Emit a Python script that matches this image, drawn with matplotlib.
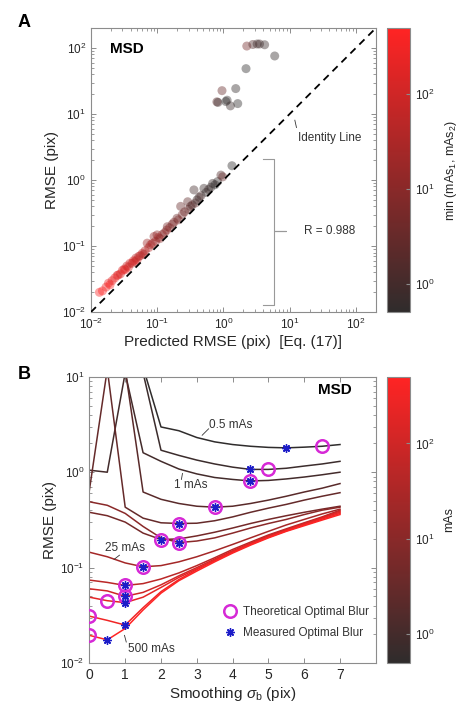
import numpy as np
import matplotlib
matplotlib.use("Agg")
import matplotlib.pyplot as plt
from matplotlib.colors import LinearSegmentedColormap, LogNorm
from matplotlib.cm import ScalarMappable
from matplotlib.lines import Line2D
import matplotlib.ticker as mticker

plt.rcParams['font.family'] = ['Liberation Sans', 'DejaVu Sans']
plt.rcParams['mathtext.fontset'] = 'custom'
plt.rcParams['mathtext.rm'] = 'Liberation Sans'
plt.rcParams['mathtext.it'] = 'Liberation Sans:italic'

## panel A data: predicted vs measured RMSE, colour = min(mAs1, mAs2)
pred_rmse = [0.0135, 0.015, 0.017, 0.0185, 0.0195, 0.021, 0.023, 0.025, 0.026, 0.028,
             0.030, 0.032, 0.033, 0.035, 0.037, 0.039, 0.042, 0.044, 0.046, 0.048,
             0.050, 0.053, 0.056, 0.060, 0.063, 0.066, 0.071, 0.075, 0.080, 0.085,
             0.090, 0.095, 0.100, 0.105, 0.11, 0.12, 0.13, 0.14, 0.143, 0.155,
             0.17, 0.18, 0.20, 0.21, 0.227, 0.24, 0.26, 0.29, 0.30, 0.32,
             0.34, 0.36, 0.38, 0.40, 0.43, 0.46, 0.51, 0.55, 0.60, 0.65,
             0.69, 0.75, 0.82, 0.92, 0.98, 1.35,
             2.26, 2.79, 3.24, 3.52, 4.2, 5.96, 2.2, 0.955, 1.54, 0.80,
             0.83, 1.14, 1.09, 1.28, 1.65]
meas_rmse = [0.020, 0.021, 0.024, 0.0275, 0.026, 0.030, 0.033, 0.036, 0.0367, 0.038,
             0.043, 0.045, 0.0437, 0.050, 0.048, 0.055, 0.055, 0.060, 0.058, 0.066,
             0.062, 0.070, 0.072, 0.078, 0.075, 0.085, 0.111, 0.095, 0.105, 0.110,
             0.140, 0.118, 0.148, 0.135, 0.130, 0.150, 0.160, 0.175, 0.197, 0.190,
             0.215, 0.230, 0.264, 0.250, 0.40, 0.30, 0.33, 0.47, 0.36, 0.40,
             0.42, 0.71, 0.45, 0.50, 0.55, 0.58, 0.75, 0.65, 0.72, 0.78,
             0.89, 0.85, 0.95, 1.19, 1.12, 1.65,
             107, 113, 115, 115, 112, 75.7, 48.7, 22.6, 24.3, 15.3,
             15.0, 16.2, 15.5, 13.3, 14.4]
mas_min = [400, 500, 300, 250, 500, 200, 300, 150, 250, 120,
           200, 100, 300, 80, 150, 100, 60, 200, 80, 50,
           120, 40, 80, 60, 30, 50, 20, 40, 25, 30,
           15, 20, 12, 25, 10, 15, 8, 12, 6, 10,
           5, 8, 4, 6, 3, 5, 4, 2.5, 3, 2,
           1.5, 1, 2, 1, 0.8, 1.2, 0.7, 0.6, 0.8, 0.6,
           0.7, 0.5, 0.6, 1.5, 3, 0.5,
           5, 1.5, 0.8, 1, 0.7, 0.6, 0.5, 3, 0.6, 2,
           0.8, 0.6, 0.5, 0.7, 0.5]
axis_lims = [0.01, 200]

## panel B data: RMSE vs smoothing for each exposure
sigma_b = [0, 0.5, 1, 1.5, 2, 2.5, 3, 3.5, 4, 4.5, 5, 5.5, 6, 6.5, 7]
curve_mas = [0.5, 0.75, 1, 2, 3, 5, 10, 25, 50, 100, 200, 300, 500]
rmse_curves = [
    [80, 60, 40, 12.6, 2.98, 2.72, 2.31, 2.08, 1.95, 1.87, 1.82, 1.80, 1.83, 1.87, 1.95],
    [80, 60, 40, 11, 1.70, 1.50, 1.34, 1.22, 1.13, 1.07, 1.07, 1.10, 1.16, 1.22, 1.30],
    [1.05, 1.0, 11, 1.6, 1.3, 1.08, 0.96, 0.88, 0.84, 0.81, 0.82, 0.85, 0.89, 0.94, 1.0],
    [80, 60, 12, 0.62, 0.52, 0.47, 0.44, 0.43, 0.44, 0.47, 0.51, 0.56, 0.62, 0.68, 0.76],
    [0.65, 12, 0.43, 0.33, 0.295, 0.29, 0.292, 0.31, 0.34, 0.38, 0.42, 0.46, 0.51, 0.56, 0.61],
    [0.38, 0.35, 0.30, 0.23, 0.197, 0.20, 0.215, 0.235, 0.26, 0.29, 0.32, 0.35, 0.38, 0.41, 0.44],
    [0.49, 0.45, 0.37, 0.27, 0.205, 0.183, 0.19, 0.205, 0.23, 0.26, 0.29, 0.32, 0.36, 0.40, 0.43],
    [0.145, 0.13, 0.112, 0.102, 0.105, 0.115, 0.13, 0.15, 0.175, 0.205, 0.24, 0.28, 0.32, 0.365, 0.41],
    [0.074, 0.070, 0.065, 0.068, 0.076, 0.088, 0.105, 0.127, 0.155, 0.185, 0.22, 0.255, 0.295, 0.34, 0.40],
    [0.060, 0.057, 0.050, 0.055, 0.066, 0.082, 0.100, 0.123, 0.150, 0.180, 0.215, 0.25, 0.29, 0.335, 0.39],
    [0.049, 0.045, 0.043, 0.049, 0.062, 0.079, 0.097, 0.120, 0.147, 0.177, 0.21, 0.245, 0.285, 0.33, 0.38],
    [0.031, 0.028, 0.025, 0.038, 0.056, 0.075, 0.095, 0.118, 0.145, 0.175, 0.208, 0.243, 0.28, 0.322, 0.37],
    [0.0195, 0.0175, 0.023, 0.036, 0.054, 0.073, 0.092, 0.115, 0.142, 0.172, 0.205, 0.24, 0.275, 0.315, 0.36],
]
theo_sigma = [6.5, 5.0, 4.5, 3.5, 2.5, 2.0, 2.5, 1.5, 1.0, 1.0, 0.5, 0.0, 0.0]
theo_rmse = [1.87, 1.08, 0.81, 0.43, 0.29, 0.197, 0.183, 0.102, 0.065, 0.050, 0.045, 0.031, 0.0195]
meas_sigma = [5.5, 4.5, 4.5, 3.5, 2.5, 2.0, 2.5, 1.5, 1.0, 1.0, 1.0, 1.0, 0.5]
meas_best = [1.80, 1.07, 0.81, 0.43, 0.29, 0.197, 0.183, 0.102, 0.065, 0.050, 0.043, 0.025, 0.0175]

cmap = LinearSegmentedColormap.from_list('graytored', ['#2f2c2c', '#ff2424'])
norm = LogNorm(0.5, 500)
spine_c = '#8c8c8c'
lab_c = '#262626'


def style(ax):
    for s in ax.spines.values():
        s.set_color(spine_c)
        s.set_linewidth(0.8)
    ax.tick_params(which='both', direction='in', top=True, right=True,
                   colors=spine_c, labelcolor=lab_c, labelsize=8.5)
    ax.tick_params(which='major', length=3.5, width=0.7)
    ax.tick_params(which='minor', length=2, width=0.6)


def colorbar(cax, label):
    cb = fig.colorbar(ScalarMappable(norm=norm, cmap=cmap), cax=cax)
    cb.outline.set_edgecolor(spine_c)
    cb.outline.set_linewidth(0.8)
    cb.ax.yaxis.set_minor_locator(mticker.NullLocator())
    cb.ax.tick_params(direction='in', length=3, colors=spine_c, labelcolor=lab_c, labelsize=8.5)
    cb.set_label(label, fontsize=9, color=lab_c, labelpad=6)
    return cb


fig = plt.figure(figsize=(4.68, 7.21), dpi=100)

## A
axA = fig.add_axes([0.194, 0.567, 0.609, 0.394])
axA.scatter(pred_rmse, meas_rmse, c=mas_min, cmap=cmap, norm=norm, s=42,
            alpha=0.42, edgecolors='none', zorder=2)
axA.plot(axis_lims, axis_lims, color='k', ls=(0, (4, 3)), lw=1.3, zorder=3)
axA.set_xscale('log')
axA.set_yscale('log')
axA.set_xlim(axis_lims)
axA.set_ylim(axis_lims)
axA.xaxis.set_major_locator(mticker.LogLocator(10, numticks=10))
axA.yaxis.set_major_locator(mticker.LogLocator(10, numticks=10))
style(axA)
axA.set_xlabel('Predicted RMSE (pix)  [Eq. (17)]', fontsize=11, color=lab_c, labelpad=2)
axA.set_ylabel('RMSE (pix)', fontsize=11, color=lab_c, labelpad=2)
axA.text(0.0197, 95, 'MSD', fontsize=11, fontweight='bold', va='center')
axA.text(13.5, 4.37, 'Identity Line', fontsize=8.5, color='#333333', va='center')
axA.plot([12, 12.7], [8.07, 6.25], color='#333333', lw=0.6)
axA.text(16.6, 0.17, 'R = 0.988', fontsize=8.5, color='#333333', va='center')
brace_x = [3.95, 5.9, 5.9, 8.9, 5.9, 5.9, 3.95]
brace_y = [2.12, 2.12, 0.17, 0.17, 0.17, 0.0129, 0.0129]
axA.plot(brace_x, brace_y, color='#999999', lw=0.8)
fig.text(0.038, 0.969, 'A', fontsize=13, fontweight='bold', va='center')

caxA = fig.add_axes([0.827, 0.567, 0.049, 0.394])
colorbar(caxA, 'min (mAs$_1$, mAs$_2$)')

## B
axB = fig.add_axes([0.191, 0.0804, 0.612, 0.397])
for mas, rm in zip(curve_mas, rmse_curves):
    axB.plot(sigma_b, rm, color=cmap(norm(mas)), lw=1.1)
axB.plot(theo_sigma, theo_rmse, 'o', mfc='none', mec='#d629d6', ms=9, mew=1.8, zorder=4)
axB.plot(meas_sigma, meas_best, ls='none', marker=(8, 2, 0), color='#1c1cc8',
         ms=6, mew=1.0, zorder=5)
axB.set_yscale('log')
axB.set_xlim(0, 8)
axB.set_ylim(0.01, 10)
axB.set_xticks(range(0, 8))
style(axB)
axB.tick_params(axis='x', which='major', labelsize=10)
axB.set_xlabel(r'Smoothing $\sigma_{\mathrm{b}}$ (pix)', fontsize=11, color=lab_c, labelpad=2)
axB.set_ylabel('RMSE (pix)', fontsize=11, color=lab_c, labelpad=2)
axB.text(6.85, 7.3, 'MSD', fontsize=11, fontweight='bold', va='center', ha='center')
axB.text(3.35, 3.11, '0.5 mAs', fontsize=8.5, color='#333333', va='center')
axB.plot([3.15, 3.33], [2.44, 2.85], color='#333333', lw=0.6)
axB.text(2.35, 0.73, '1 mAs', fontsize=8.5, color='#333333', va='center')
axB.plot([2.57, 2.6], [0.84, 0.97], color='#333333', lw=0.6)
axB.text(0.99, 0.161, '25 mAs', fontsize=8.5, color='#333333', va='center', ha='center')
axB.plot([0.69, 0.84], [0.122, 0.135], color='#333333', lw=0.6)
axB.text(1.09, 0.0141, '500 mAs', fontsize=8.5, color='#333333', va='center')
axB.plot([0.98, 1.03], [0.0195, 0.0166], color='#333333', lw=0.6)
handles = [Line2D([], [], ls='none', marker='o', mfc='none', mec='#d629d6', ms=9, mew=1.8),
           Line2D([], [], ls='none', marker=(8, 2, 0), color='#1c1cc8', ms=6, mew=1.0)]
axB.legend(handles, ['Theoretical Optimal Blur', 'Measured Optimal Blur'],
           loc='center left', bbox_to_anchor=(0.43, 0.142), frameon=False,
           fontsize=8.5, handlelength=1.2, handletextpad=0.5, labelspacing=0.75,
           labelcolor='#333333')
fig.text(0.038, 0.48, 'B', fontsize=13, fontweight='bold', va='center')

caxB = fig.add_axes([0.827, 0.0804, 0.049, 0.397])
colorbar(caxB, 'mAs')

fig.savefig('out.png', dpi=100)
